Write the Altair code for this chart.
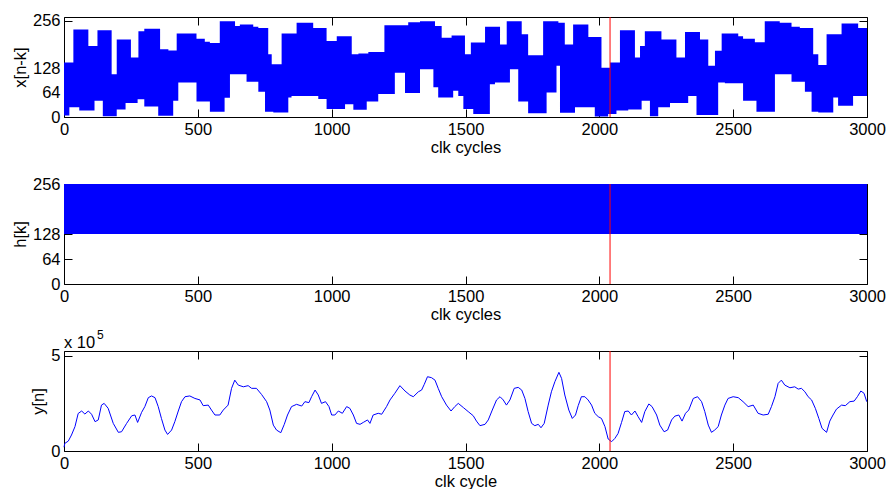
import altair as alt
import numpy as np
import pandas as pd

FONT = "Liberation Sans"
BLUE = "#0000ff"
RED = "#ff0000"
FS = 16.5

x_ticks = [0, 500, 1000, 1500, 2000, 2500, 3000]
ticks_8bit = [0, 64, 128, 256]
ticks_y = [0, 5]
marker_n = [2040]

# --- panel 1: x[n-k], upper and lower envelope (step starts) ---
up_n = [0, 35, 91, 125, 178, 197, 250, 278, 300, 359, 390, 421, 495, 526, 545, 582, 639, 657, 707, 726,
        763, 776, 813, 869, 931, 981, 1019, 1075, 1100, 1137, 1197, 1286, 1330, 1386, 1411, 1448, 1498, 1520, 1573, 1629,
        1654, 1710, 1734, 1790, 1847, 1871, 1902, 1959, 2008, 2040, 2077, 2133, 2152, 2170, 2232, 2288, 2320, 2376, 2407, 2432,
        2457, 2519, 2537, 2581, 2618, 2674, 2718, 2749, 2799, 2818, 2849, 2905, 2967]
up_v = [145, 233, 189, 231, 114, 206, 158, 228, 235, 180, 177, 222, 208, 200, 197, 255, 242, 246, 240, 237,
        167, 140, 222, 251, 237, 202, 215, 167, 169, 173, 244, 252, 255, 242, 211, 217, 167, 198, 240, 193,
        255, 220, 164, 255, 251, 193, 246, 213, 131, 145, 231, 158, 189, 228, 206, 158, 226, 206, 136, 176,
        222, 215, 208, 199, 255, 251, 240, 237, 167, 138, 220, 249, 237]
lo_n = [0, 20, 57, 114, 145, 197, 230, 275, 300, 352, 408, 427, 495, 545, 600, 620, 682, 726, 751, 782,
        838, 850, 950, 981, 1050, 1081, 1131, 1174, 1236, 1274, 1330, 1380, 1398, 1454, 1473, 1492, 1529, 1591, 1610, 1666,
        1697, 1734, 1803, 1840, 1853, 1909, 1983, 2033, 2064, 2108, 2158, 2189, 2220, 2264, 2332, 2363, 2444, 2469, 2537, 2587,
        2656, 2718, 2768, 2793, 2818, 2874, 2892, 2948]
lo_v = [4, 26, 17, 43, 2, 20, 37, 47, 28, 3, 43, 92, 41, 14, 51, 114, 94, 67, 14, 12,
        52, 56, 48, 21, 34, 19, 41, 61, 118, 64, 127, 79, 52, 70, 56, 21, 8, 87, 92, 127,
        41, 10, 65, 136, 11, 26, 1, 8, 17, 20, 43, 2, 26, 37, 56, 5, 92, 90, 43, 14,
        114, 94, 67, 14, 12, 52, 30, 56]

# --- panel 2: h[k] band ---
h_n = [0, 3000]
h_lo = [128, 128]
h_hi = [256, 256]

# --- panel 3: y[n] (units of 1e5) ---
y_n = [0, 3, 16, 28, 41, 53, 66, 78, 91, 103, 116, 128, 140, 150, 165, 184, 203, 215, 234, 253, 265, 275, 290, 302, 315,
       327, 340, 352, 364, 377, 387, 402, 414, 427, 439, 452, 470, 489, 508, 520, 539, 551, 564, 582, 595, 613, 626,
       638, 651, 670, 688, 701, 719, 738, 757, 769, 782, 794, 810, 823, 835,
       850, 869, 888, 900, 915, 925, 938, 950, 962, 977, 990, 1000, 1012, 1025, 1040, 1056, 1068, 1081, 1093, 1106,
       1118, 1134, 1143, 1155, 1174, 1187, 1205, 1218, 1236, 1255, 1274, 1292, 1305, 1324, 1336, 1346, 1358, 1373,
       1386, 1398, 1411, 1429, 1446, 1460, 1473, 1492, 1510, 1529, 1541, 1554, 1573, 1585, 1600, 1616, 1629, 1641,
       1653, 1666, 1682, 1697, 1710, 1722, 1734, 1747, 1759, 1772, 1782, 1794, 1809, 1821, 1834, 1849, 1859, 1871,
       1886, 1899, 1911,
       1921, 1933, 1946, 1958, 1971, 1983, 1996, 2008, 2021, 2033, 2046, 2058, 2070, 2083, 2095, 2108, 2120, 2133,
       2145, 2158, 2170, 2185, 2197, 2214, 2226, 2242, 2255, 2270, 2282, 2297, 2309, 2322, 2334, 2351, 2367, 2382,
       2394, 2407, 2419, 2431, 2444, 2456, 2469, 2481, 2500, 2519, 2537, 2556, 2575, 2593, 2612, 2631, 2643, 2656,
       2668, 2680, 2693, 2712, 2730, 2743, 2755, 2768, 2780, 2793, 2807, 2820, 2832, 2849, 2861, 2873, 2886, 2905,
       2919, 2936, 2952, 2964, 2977, 2989, 2999]
y_v = [0.2, 0.4, 0.52, 0.84, 1.28, 1.97, 2.1, 1.94, 2.1, 1.93, 1.54, 1.63, 2.41, 2.5, 2.24, 1.45, 0.98, 1.01, 1.45, 1.85, 1.89, 1.5, 2.03, 2.33, 2.8,
       2.89, 2.8, 2.33, 1.71, 1.1, 0.87, 1.1, 1.54, 2.1, 2.59, 2.85, 2.89, 2.76, 2.68, 2.38, 2.41, 2.15, 1.89, 1.89, 2.15, 2.41, 3.29,
       3.72, 3.46, 3.37, 3.43, 3.29, 3.29, 2.97, 2.59, 2.15, 1.36, 1.1, 0.96, 1.4, 1.89,
       2.33, 2.45, 2.36, 2.59, 2.54, 2.85, 3.2, 2.94, 2.5, 2.59, 2.33, 1.89, 1.89, 2.1, 1.98, 2.33, 2.24, 1.89, 1.45, 1.4,
       1.5, 1.63, 1.45, 1.89, 1.98, 1.93, 2.33, 2.68, 3.03, 3.43, 3.15, 2.94, 2.85, 3.11, 3.2, 3.5, 3.9, 3.85,
       3.72, 3.29, 2.85, 2.41, 2.1, 2.33, 2.5, 2.28, 2.07, 1.85, 1.57, 1.33, 1.4, 1.63, 2.15, 2.68, 2.85, 2.68,
       2.41, 2.68, 3.29, 3.34, 3.2, 2.76, 2.07, 1.45, 1.33, 1.4, 1.22, 1.45, 2.41, 3.11, 3.64, 4.13, 3.81, 2.94,
       2.15, 1.71, 1.89,
       2.38, 2.85, 2.85, 2.68, 2.41, 1.98, 1.8, 1.71, 1.28, 0.63, 0.49, 0.66, 0.92, 1.5, 2.07, 2.1, 1.89, 2.1,
       1.8, 1.5, 2.07, 2.47, 2.33, 1.89, 1.36, 1.01, 1.1, 1.63, 1.83, 1.89, 1.57, 1.98, 2.15, 2.76, 2.85, 2.59,
       2.07, 1.36, 0.98, 1.1, 1.28, 1.89, 2.41, 2.76, 2.85, 2.8, 2.59, 2.33, 2.41, 1.98, 1.89, 1.93, 2.33, 2.85,
       3.55, 3.72, 3.46, 3.32, 3.37, 3.25, 3.29, 3.11, 2.85, 2.68, 2.24, 1.71, 1.19, 0.98, 1.57, 1.89, 2.2, 2.41,
       2.38, 2.59, 2.62, 2.85, 3.15, 3.03, 2.59]

# combine envelope step tables
breaks = sorted(set(up_n) | set(lo_n) | {3000})
ui = np.searchsorted(up_n, breaks, side="right") - 1
li = np.searchsorted(lo_n, breaks, side="right") - 1
df1 = pd.DataFrame({"n": breaks, "hi": np.array(up_v)[ui], "lo": np.array(lo_v)[li]})
df2 = pd.DataFrame({"n": h_n, "lo": h_lo, "hi": h_hi})
df3 = pd.DataFrame({"n": y_n, "y": y_v})

W, H = 803, 100
xs = alt.Scale(domain=[0, 3000], nice=False, zero=False)

common = dict(labelFont=FONT, titleFont=FONT, labelFontSize=FS, titleFontSize=FS,
              labelColor="black", titleColor="black", tickColor="black", tickWidth=1,
              titleFontWeight="normal", grid=False, domain=False, labelFlush=False,
              labelOverlap=False, offset=-8, tickSize=8)


def ax_bottom(title):
    return alt.Axis(orient="bottom", values=x_ticks, format="d", labelPadding=4,
                    title=title, titlePadding=2, **common)


ax_top = alt.Axis(orient="top", values=x_ticks, labels=False, title=None, **common)


def ax_left(vals, title):
    return alt.Axis(orient="left", values=vals, format="d", labelPadding=4,
                    title=title, titlePadding=4, **common)


def ax_right(vals):
    return alt.Axis(orient="right", values=vals, labels=False, title=None, **common)


def panel(df_area, ydom, yvals, ytitle, xtitle, line=False):
    ys = alt.Scale(domain=ydom, nice=False, zero=False)
    if line:
        main = alt.Chart(df_area).mark_line(color=BLUE, strokeWidth=1).encode(
            x=alt.X("n:Q", scale=xs, axis=ax_bottom(xtitle)),
            y=alt.Y("y:Q", scale=ys, axis=ax_left(yvals, ytitle)),
        )
    else:
        main = alt.Chart(df_area).mark_area(color=BLUE, interpolate="step-after", opacity=1).encode(
            x=alt.X("n:Q", scale=xs, axis=ax_bottom(xtitle)),
            y=alt.Y("lo:Q", scale=ys, axis=ax_left(yvals, ytitle)),
            y2="hi:Q",
        )
    red = alt.Chart(pd.DataFrame({"n": marker_n, "y0": [ydom[0]], "y1": [ydom[1]]})).mark_rule(
        color=RED, strokeWidth=1).encode(
        x=alt.X("n:Q", scale=xs, axis=ax_top),
        y=alt.Y("y0:Q", scale=ys, axis=ax_right(yvals)),
        y2="y1:Q",
    )
    return alt.layer(main, red).resolve_axis(x="independent", y="independent").properties(width=W, height=H)


p1 = panel(df1, [0, 266], ticks_8bit, "x[n-k]", "clk cycles")
p2 = panel(df2, [0, 256], ticks_8bit, "h[k]", "clk cycles")
p3 = panel(df3, [0, 5.25], ticks_y, "y[n]", "clk cycle", line=True)

exp_a = alt.Chart(pd.DataFrame({"t": ["x 10"]})).mark_text(
    font=FONT, fontSize=FS, align="left", baseline="alphabetic", color="black").encode(
    x=alt.value(0), y=alt.value(-3), text="t:N")
exp_b = alt.Chart(pd.DataFrame({"t": ["5"]})).mark_text(
    font=FONT, fontSize=12, align="left", baseline="alphabetic", color="black").encode(
    x=alt.value(33), y=alt.value(-12), text="t:N")
p3 = alt.layer(p3, exp_a, exp_b)

chart = alt.vconcat(p1, p2, p3, spacing=67, bounds="flush").properties(
    padding={"left": 11, "top": 12, "right": 2, "bottom": 0},
    background="white",
).configure_view(stroke="black", strokeWidth=1)

chart.save("out.html", embed_options={"renderer": "svg", "actions": False})
